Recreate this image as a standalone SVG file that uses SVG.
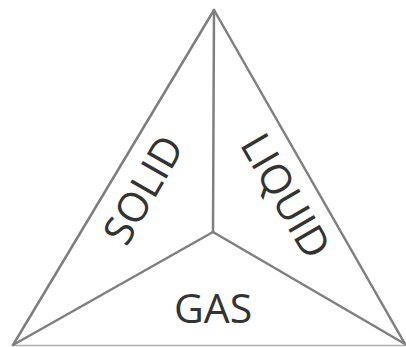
<svg xmlns="http://www.w3.org/2000/svg" width="406" height="347" viewBox="0 0 406 347">
<style>
.e{stroke:#7f7f7f;stroke-width:2.5;fill:none;stroke-linecap:round}
.t{font-family:"Open Sans","Liberation Sans",sans-serif;font-size:41px;fill:#333;text-anchor:middle;dominant-baseline:central}
</style>
<rect width="406" height="347" fill="#fff"/>
<g id="connectors">
<line class="e" x1="214" y1="10" x2="13" y2="345"/>
<line class="e" x1="214" y1="10" x2="405" y2="344"/>
<line x1="13" y1="345.5" x2="406" y2="345.5" stroke="#b0b0b0" stroke-width="1.5"/>
<line class="e" x1="214" y1="10" x2="213" y2="232"/>
<line class="e" x1="213" y1="232" x2="13" y2="345"/>
<line class="e" x1="213" y1="232" x2="405" y2="344"/>
</g>
<g id="solid"><text class="t" transform="translate(142,189) rotate(-60)">SOLID</text></g>
<g id="liquid"><text class="t" transform="translate(287,195) rotate(60)">LIQUID</text></g>
<g id="gas"><text class="t" x="213" y="307">GAS</text></g>
</svg>
